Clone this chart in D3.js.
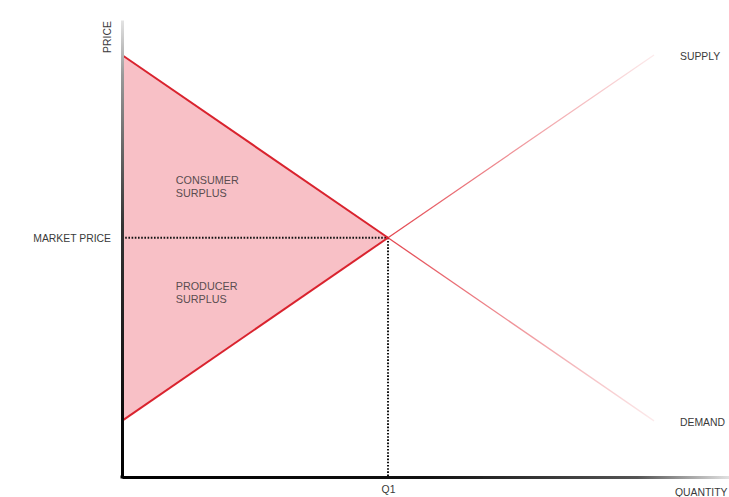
<!DOCTYPE html>
<html><head><meta charset="utf-8">
<script src="https://cdn.jsdelivr.net/npm/d3@7"></script>
<style>body{margin:0;background:#fff}svg{display:block}text{font-family:"Liberation Sans",Arial,sans-serif}</style>
</head><body><div id="c"></div>
<script>
// Data (quantity, price)
const demand = [[0, 10], [5, 5.67], [10, 1.33]];
const supply = [[0, 1.33], [5, 5.67], [10, 10]];
const equilibrium = {q: 5, p: 5.67};
const xTickLabels = ["Q1"];
const yTickLabels = ["MARKET PRICE"];
const curveLabels = ["SUPPLY", "DEMAND"];
const areaLabels = [["CONSUMER", "SURPLUS"], ["PRODUCER", "SURPLUS"]];

const W = 729, H = 497;
const FS = 10.4;
const svg = d3.select("#c").append("svg").attr("width", W).attr("height", H);
const x = d3.scaleLinear().domain([0, 11.4]).range([122, 728.5]);
const y = d3.scaleLinear().domain([0, 10.83]).range([477, 20]);
const defs = svg.append("defs");

// triangle fill
svg.append("path")
  .attr("d", d3.line().x(d => x(d[0])).y(d => y(d[1]))([demand[0], demand[1], supply[0]]) + "Z")
  .attr("fill", "#f8c0c6");

// gradients for outer curve segments
function grad(id, a, b) {
  const g = defs.append("linearGradient").attr("id", id).attr("gradientUnits", "userSpaceOnUse")
    .attr("x1", x(a[0])).attr("y1", y(a[1])).attr("x2", x(b[0])).attr("y2", y(b[1]));
  g.append("stop").attr("offset", 0).attr("stop-color", "#e0303a").attr("stop-opacity", 0.9);
  g.append("stop").attr("offset", 1).attr("stop-color", "#e0303a").attr("stop-opacity", 0.1);
}
grad("gd", demand[1], demand[2]);
grad("gs", supply[1], supply[2]);

// dotted guide lines
svg.append("line").attr("x1", x(0)).attr("y1", y(equilibrium.p)).attr("x2", x(equilibrium.q)).attr("y2", y(equilibrium.p))
  .attr("stroke", "#111").attr("stroke-width", 2).attr("stroke-dasharray", "1.6,1.6");
svg.append("line").attr("x1", x(equilibrium.q)).attr("y1", y(equilibrium.p)).attr("x2", x(equilibrium.q)).attr("y2", y(0))
  .attr("stroke", "#111").attr("stroke-width", 2).attr("stroke-dasharray", "1.6,1.6");

// curves
[[demand, "gd"], [supply, "gs"]].forEach(([d, g]) => {
  svg.append("line").attr("x1", x(d[0][0])).attr("y1", y(d[0][1])).attr("x2", x(d[1][0])).attr("y2", y(d[1][1]))
    .attr("stroke", "#d9232e").attr("stroke-width", 2);
  svg.append("line").attr("x1", x(d[1][0])).attr("y1", y(d[1][1])).attr("x2", x(d[2][0])).attr("y2", y(d[2][1]))
    .attr("stroke", `url(#${g})`).attr("stroke-width", 1.3);
});

// axes gradients
const gy = defs.append("linearGradient").attr("id", "gy").attr("gradientUnits", "userSpaceOnUse")
  .attr("x1", 0).attr("y1", y(10.83)).attr("x2", 0).attr("y2", y(0));
[[0, "#e4e4e4"], [0.12, "#999"], [0.45, "#333"], [1, "#000"]].forEach(s => gy.append("stop").attr("offset", s[0]).attr("stop-color", s[1]));
const gx = defs.append("linearGradient").attr("id", "gx").attr("gradientUnits", "userSpaceOnUse")
  .attr("x1", x(0)).attr("y1", 0).attr("x2", x(11.4)).attr("y2", 0);
[[0, "#000"], [0.5, "#111"], [0.85, "#555"], [1, "#e0e0e0"]].forEach(s => gx.append("stop").attr("offset", s[0]).attr("stop-color", s[1]));

const xAxis = svg.append("g").attr("transform", `translate(0,${y(0)})`)
  .call(d3.axisBottom(x).tickValues([equilibrium.q]).tickFormat(() => xTickLabels[0]).tickSize(0).tickPadding(9));
xAxis.select(".domain").attr("stroke", "url(#gx)").attr("stroke-width", 3);
xAxis.selectAll("text").attr("font-size", FS).attr("fill", "#3a3a3a").attr("font-family", "Liberation Sans, Arial, sans-serif");

const yAxis = svg.append("g").attr("transform", `translate(${x(0)},0)`)
  .call(d3.axisLeft(y).tickValues([equilibrium.p]).tickFormat(() => yTickLabels[0]).tickSize(0).tickPadding(11));
yAxis.select(".domain").attr("stroke", "url(#gy)").attr("stroke-width", 3);
yAxis.selectAll("text").attr("font-size", FS).attr("fill", "#3a3a3a").attr("font-family", "Liberation Sans, Arial, sans-serif");
svg.append("line").attr("x1", x(0) - 1.5).attr("x2", x(0) + 2).attr("y1", y(0)).attr("y2", y(0)).attr("stroke", "#000").attr("stroke-width", 3);

// axis titles
svg.append("text").attr("transform", `translate(${x(0) - 15},37) rotate(-90)`)
  .attr("text-anchor", "middle").attr("dy", "0.35em").attr("font-size", FS).attr("fill", "#3a3a3a").text("PRICE");
svg.append("text").attr("x", 675).attr("y", y(0) + 19).attr("font-size", FS).attr("fill", "#3a3a3a").text("QUANTITY");

// curve labels
svg.append("text").attr("x", 680).attr("y", y(supply[2][1]) + 1).attr("dy", "0.35em").attr("font-size", FS).attr("fill", "#3a3a3a").text(curveLabels[0]);
svg.append("text").attr("x", 680).attr("y", y(demand[2][1]) + 1).attr("dy", "0.35em").attr("font-size", FS).attr("fill", "#3a3a3a").text(curveLabels[1]);

// area labels
const areaPos = [[1.01, 6.94], [1.01, 4.43]];
areaLabels.forEach((lines, i) => {
  const t = svg.append("text").attr("x", x(areaPos[i][0])).attr("y", y(areaPos[i][1])).attr("font-size", 10.8).attr("fill", "#5a4d50");
  lines.forEach((l, j) => t.append("tspan").attr("x", x(areaPos[i][0])).attr("dy", j ? 12.5 : 0).text(l));
});
</script></body></html>
